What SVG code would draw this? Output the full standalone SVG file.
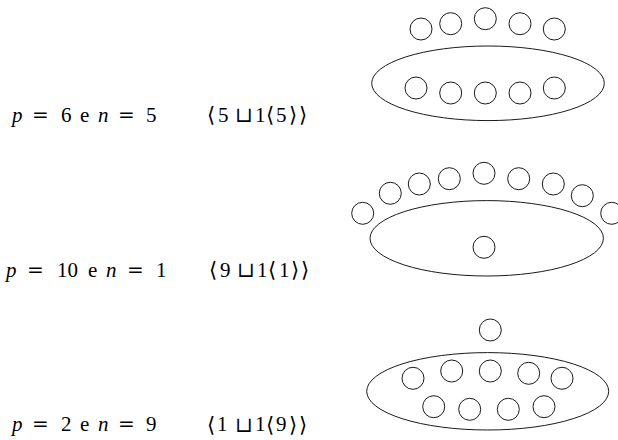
<svg xmlns="http://www.w3.org/2000/svg" width="618" height="440" viewBox="0 0 618 440">
  <style>
    .c { fill: none; stroke: #1a1a1a; stroke-width: 1; }
  </style>
  <rect width="618" height="440" fill="#fff"/>

  <!-- case 1: p = 6, n = 5 -->
  <g id="case1">
    <text y="121.5" font-family="Liberation Serif" font-size="21" fill="#000"><tspan x="12" font-style="italic">p</tspan><tspan x="61">6</tspan><tspan x="80">e</tspan><tspan x="98" font-style="italic">n</tspan><tspan x="146">5</tspan></text>
    <text y="121.5" font-family="Liberation Serif" font-size="21" fill="#000"><tspan x="218">5</tspan><tspan x="255">1</tspan><tspan x="276">5</tspan></text>
    <text y="121.5" font-family="DejaVu Serif" font-size="20" fill="#000"><tspan x="32">=</tspan><tspan x="118">=</tspan></text>
    <text y="122" font-family="DejaVu Serif" font-size="21" fill="#000"><tspan x="207">⟨</tspan><tspan x="235">⊔</tspan><tspan x="266">⟨</tspan><tspan x="289">⟩</tspan><tspan x="299">⟩</tspan></text>
    <ellipse class="c" cx="488" cy="83.3" rx="116.3" ry="37.3"/>
    <circle class="c" cx="421" cy="29" r="11"/>
    <circle class="c" cx="450.7" cy="23.7" r="11"/>
    <circle class="c" cx="485.3" cy="18.7" r="11"/>
    <circle class="c" cx="520" cy="23.7" r="11"/>
    <circle class="c" cx="554.3" cy="29" r="11"/>
    <circle class="c" cx="416" cy="88" r="11"/>
    <circle class="c" cx="450.7" cy="93" r="11"/>
    <circle class="c" cx="485.3" cy="93" r="11"/>
    <circle class="c" cx="520" cy="93" r="11"/>
    <circle class="c" cx="554.3" cy="88" r="11"/>
  </g>

  <!-- case 2: p = 10, n = 1 -->
  <g id="case2">
    <text y="276.5" font-family="Liberation Serif" font-size="21" fill="#000"><tspan x="6" font-style="italic">p</tspan><tspan x="57">10</tspan><tspan x="88">e</tspan><tspan x="106" font-style="italic">n</tspan><tspan x="156">1</tspan></text>
    <text y="276.5" font-family="Liberation Serif" font-size="21" fill="#000"><tspan x="220">9</tspan><tspan x="257">1</tspan><tspan x="279">1</tspan></text>
    <text y="276.5" font-family="DejaVu Serif" font-size="20" fill="#000"><tspan x="27">=</tspan><tspan x="127">=</tspan></text>
    <text y="277" font-family="DejaVu Serif" font-size="21" fill="#000"><tspan x="209">⟨</tspan><tspan x="237">⊔</tspan><tspan x="268">⟨</tspan><tspan x="291">⟩</tspan><tspan x="301">⟩</tspan></text>
    <ellipse class="c" cx="486.7" cy="238.3" rx="116.7" ry="37.7"/>
    <circle class="c" cx="362.7" cy="213.3" r="11"/>
    <circle class="c" cx="390.3" cy="193.3" r="11"/>
    <circle class="c" cx="419.3" cy="184" r="11"/>
    <circle class="c" cx="449.3" cy="178.7" r="11"/>
    <circle class="c" cx="484" cy="173.3" r="11"/>
    <circle class="c" cx="518.7" cy="178.7" r="11"/>
    <circle class="c" cx="553.3" cy="184" r="11"/>
    <circle class="c" cx="582.3" cy="195.7" r="11"/>
    <circle class="c" cx="611.7" cy="213.3" r="11"/>
    <circle class="c" cx="484" cy="247.3" r="11"/>
  </g>

  <!-- case 3: p = 2, n = 9 -->
  <g id="case3">
    <text y="431" font-family="Liberation Serif" font-size="21" fill="#000"><tspan x="12" font-style="italic">p</tspan><tspan x="61">2</tspan><tspan x="80">e</tspan><tspan x="98" font-style="italic">n</tspan><tspan x="146">9</tspan></text>
    <text y="431" font-family="Liberation Serif" font-size="21" fill="#000"><tspan x="217">1</tspan><tspan x="255">1</tspan><tspan x="276">9</tspan></text>
    <text y="431" font-family="DejaVu Serif" font-size="20" fill="#000"><tspan x="32">=</tspan><tspan x="118">=</tspan></text>
    <text y="431.5" font-family="DejaVu Serif" font-size="21" fill="#000"><tspan x="207">⟨</tspan><tspan x="235">⊔</tspan><tspan x="266">⟨</tspan><tspan x="289">⟩</tspan><tspan x="299">⟩</tspan></text>
    <ellipse class="c" cx="487.7" cy="391.3" rx="121" ry="38.7"/>
    <circle class="c" cx="490.3" cy="330" r="11"/>
    <circle class="c" cx="413" cy="378.3" r="11"/>
    <circle class="c" cx="451.7" cy="371" r="11"/>
    <circle class="c" cx="490.3" cy="371" r="11"/>
    <circle class="c" cx="528.7" cy="373.3" r="11"/>
    <circle class="c" cx="562" cy="378.3" r="11"/>
    <circle class="c" cx="433.7" cy="406.7" r="11"/>
    <circle class="c" cx="469.7" cy="409.3" r="11"/>
    <circle class="c" cx="508.3" cy="409.3" r="11"/>
    <circle class="c" cx="544" cy="406.7" r="11"/>
  </g>
</svg>
